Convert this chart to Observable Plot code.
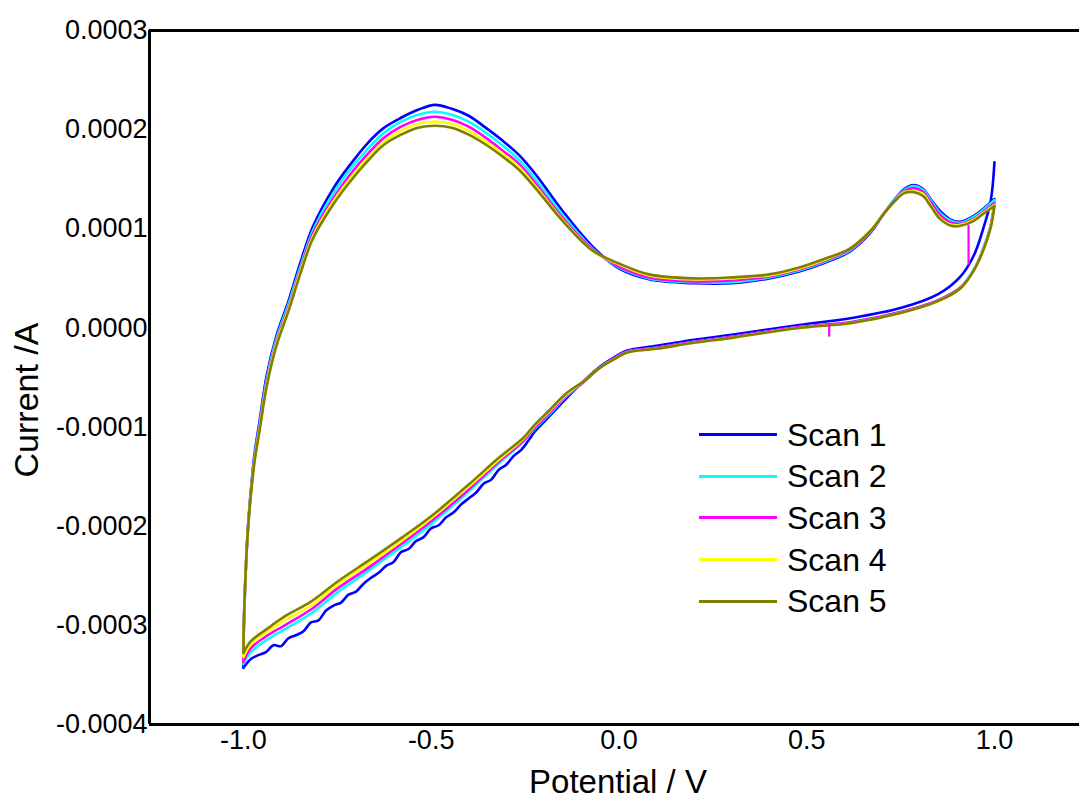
<!DOCTYPE html>
<html><head><meta charset="utf-8">
<script src="https://cdn.jsdelivr.net/npm/d3@7"></script>
<script src="https://cdn.jsdelivr.net/npm/@observablehq/plot@0.6"></script>
<style>
body{margin:0;background:#fff;font-family:"Liberation Sans",Arial,sans-serif;}
#wrap{position:relative;width:1079px;height:799px;overflow:hidden;}
#legend{position:absolute;left:699px;top:414px;}
.row{display:flex;align-items:center;height:41.6px;}
.sw{width:78px;height:3px;margin-right:10px;}
.lab{font-size:32px;color:#000;line-height:1;white-space:nowrap;}
</style></head><body><div id="wrap"><div id="legend"></div></div>
<script>
// ---- data (currents in units of 1e-4 A) ----
const scanNames = ["Scan 1", "Scan 2", "Scan 3", "Scan 4", "Scan 5"];
const scanColors = ["#0000ff", "#00ffff", "#ff00ff", "#ffff00", "#808000"];
const xTicks = [-1.0, -0.5, 0.0, 0.5, 1.0];
const yTicks = [-0.0004, -0.0003, -0.0002, -0.0001, 0, 0.0001, 0.0002, 0.0003];
const xDomain = [-1.25, 1.2265];
const yDomain = [-0.0004, 0.0003];
const unit = 1e-4;

// anodic (upper) branch potentials, V
const potUp = [-1.000, -0.999, -0.996, -0.992, -0.987, -0.979, -0.970, -0.957, -0.938, -0.912,
  -0.880, -0.848, -0.815, -0.760, -0.715, -0.670, -0.625, -0.580, -0.535, -0.490,
  -0.445, -0.400, -0.355, -0.310, -0.265, -0.220, -0.150, -0.070, 0.000, 0.080,
  0.200, 0.300, 0.400, 0.480, 0.550, 0.615, 0.670, 0.705, 0.735, 0.760,
  0.785, 0.810, 0.830, 0.855, 0.885, 0.910, 0.945, 0.970, 1.000];
// cathodic (lower) branch potentials, V (scans 2-5)
const potDown = [1.000, 0.990, 0.970, 0.945, 0.910, 0.850, 0.750, 0.620, 0.480, 0.300,
  0.200, 0.100, 0.020, -0.005, -0.050, -0.095, -0.140, -0.185, -0.225, -0.255,
  -0.320, -0.400, -0.500, -0.580, -0.660, -0.750, -0.820, -0.890, -0.935, -0.980, -1.000];
// cathodic branch potentials for the noisier scan 1, V
const potDown1 = [1.000, 0.990, 0.970, 0.945, 0.910, 0.850, 0.750, 0.620, 0.480, 0.300,
  0.200, 0.100, 0.020, -0.005, -0.050, -0.095, -0.140, -0.185, -0.225,
  -0.24, -0.26, -0.28, -0.30, -0.32, -0.34, -0.36, -0.38, -0.40, -0.42,
  -0.44, -0.46, -0.48, -0.50, -0.52, -0.54, -0.56, -0.58, -0.60, -0.62,
  -0.64, -0.66, -0.68, -0.70, -0.72, -0.74, -0.76, -0.78, -0.80, -0.82,
  -0.84, -0.86, -0.88, -0.90, -0.92, -0.94, -0.96, -0.980, -1.000];

const scan1Up = [-3.43, -3.06, -2.67, -2.30, -1.97, -1.59, -1.26, -0.94, -0.48, -0.08,
  0.27, 0.66, 1.02, 1.41, 1.65, 1.86, 2.02, 2.12, 2.20, 2.25,
  2.21, 2.14, 2.02, 1.89, 1.74, 1.54, 1.18, 0.82, 0.60, 0.49,
  0.45, 0.45, 0.50, 0.57, 0.66, 0.77, 0.96, 1.15, 1.30, 1.40,
  1.44, 1.40, 1.30, 1.18, 1.09, 1.07, 1.13, 1.20, 1.30];
const scan2Up = [-3.39, -3.04, -2.66, -2.30, -1.98, -1.61, -1.29, -0.98, -0.52, -0.11,
  0.24, 0.62, 0.98, 1.36, 1.60, 1.80, 1.97, 2.08, 2.15, 2.18,
  2.15, 2.08, 1.97, 1.84, 1.69, 1.49, 1.14, 0.80, 0.61, 0.50,
  0.46, 0.46, 0.51, 0.58, 0.67, 0.78, 0.97, 1.15, 1.30, 1.39,
  1.43, 1.39, 1.29, 1.16, 1.08, 1.06, 1.12, 1.19, 1.29];
const scan3Up = [-3.37, -3.03, -2.66, -2.30, -1.98, -1.62, -1.31, -1.00, -0.55, -0.14,
  0.21, 0.59, 0.95, 1.31, 1.55, 1.75, 1.92, 2.03, 2.10, 2.13,
  2.10, 2.03, 1.92, 1.79, 1.65, 1.45, 1.11, 0.79, 0.62, 0.51,
  0.47, 0.48, 0.52, 0.59, 0.68, 0.79, 0.97, 1.15, 1.29, 1.38,
  1.41, 1.37, 1.27, 1.14, 1.06, 1.05, 1.10, 1.17, 1.26];
const scan4Up = [-3.32, -3.02, -2.65, -2.30, -1.99, -1.63, -1.33, -1.02, -0.57, -0.16,
  0.19, 0.57, 0.92, 1.28, 1.51, 1.71, 1.88, 1.99, 2.06, 2.08,
  2.06, 1.99, 1.88, 1.76, 1.62, 1.42, 1.09, 0.78, 0.64, 0.53,
  0.49, 0.50, 0.53, 0.60, 0.69, 0.80, 0.98, 1.15, 1.28, 1.37,
  1.38, 1.35, 1.24, 1.11, 1.04, 1.04, 1.09, 1.16, 1.24];
const scan5Up = [-3.28, -3.01, -2.65, -2.30, -1.99, -1.64, -1.34, -1.04, -0.59, -0.18,
  0.17, 0.55, 0.90, 1.25, 1.48, 1.68, 1.85, 1.95, 2.02, 2.04,
  2.02, 1.95, 1.85, 1.73, 1.59, 1.40, 1.08, 0.78, 0.65, 0.54,
  0.50, 0.51, 0.54, 0.61, 0.70, 0.80, 0.98, 1.15, 1.28, 1.36,
  1.37, 1.33, 1.23, 1.10, 1.03, 1.03, 1.08, 1.15, 1.23];

const scan1Down = [1.67, 1.28, 1.00, 0.73, 0.52, 0.34, 0.20, 0.10, 0.03, -0.07,
  -0.12, -0.18, -0.23, -0.28, -0.39, -0.54, -0.71, -0.89, -1.05,
  -1.13, -1.23, -1.29, -1.38, -1.43, -1.53, -1.57, -1.66, -1.72, -1.78,
  -1.86, -1.91, -1.99, -2.02, -2.11, -2.15, -2.23, -2.26, -2.36, -2.40,
  -2.47, -2.52, -2.58, -2.66, -2.69, -2.77, -2.80, -2.85, -2.95, -2.97,
  -3.06, -3.10, -3.13, -3.21, -3.20, -3.27, -3.30, -3.34, -3.43];
const scan2Down = [1.29, 1.04, 0.80, 0.59, 0.41, 0.28, 0.16, 0.06, 0.01, -0.09,
  -0.14, -0.20, -0.24, -0.29, -0.40, -0.55, -0.69, -0.87, -1.02, -1.15,
  -1.37, -1.65, -1.98, -2.21, -2.43, -2.67, -2.88, -3.04, -3.14, -3.27, -3.39];
const scan3Down = [1.26, 1.03, 0.79, 0.58, 0.41, 0.28, 0.16, 0.06, 0.01, -0.09,
  -0.14, -0.20, -0.24, -0.29, -0.40, -0.55, -0.68, -0.86, -1.01, -1.14,
  -1.35, -1.63, -1.95, -2.18, -2.40, -2.63, -2.84, -3.00, -3.10, -3.23, -3.37];
const scan4Down = [1.24, 1.02, 0.78, 0.58, 0.40, 0.27, 0.15, 0.05, 0.00, -0.10,
  -0.15, -0.21, -0.25, -0.30, -0.40, -0.54, -0.67, -0.84, -0.99, -1.12,
  -1.33, -1.60, -1.92, -2.15, -2.36, -2.59, -2.80, -2.95, -3.06, -3.19, -3.32];
const scan5Down = [1.23, 1.01, 0.78, 0.58, 0.40, 0.27, 0.15, 0.05, 0.00, -0.10,
  -0.15, -0.21, -0.25, -0.30, -0.40, -0.54, -0.66, -0.83, -0.98, -1.11,
  -1.31, -1.58, -1.90, -2.12, -2.33, -2.56, -2.76, -2.91, -3.03, -3.16, -3.28];

// spikes seen in scan 3
const spikePot = [0.931, 0.931, 0.560, 0.560];
const spikeCur = [1.03, 0.65, 0.04, -0.08];
const spikeId = ["a", "a", "b", "b"];

// ---- build table ----
const upArrays = [scan1Up, scan2Up, scan3Up, scan4Up, scan5Up];
const downArrays = [scan1Down, scan2Down, scan3Down, scan4Down, scan5Down];
const downPots = [potDown1, potDown, potDown, potDown, potDown];
const rows = [];
scanNames.forEach((name, k) => {
  downArrays[k].forEach((c, i) => rows.push({scan: name, seg: name, E: downPots[k][i], I: c * unit}));
  upArrays[k].forEach((c, i) => rows.push({scan: name, seg: name, E: potUp[i], I: c * unit}));
});
const spikes = spikePot.map((e, i) => ({scan: "Scan 3", seg: "spike" + spikeId[i], E: e, I: spikeCur[i] * unit}));

const font = '"Liberation Sans", Arial, sans-serif';
const chart = Plot.plot({
  width: 1079, height: 799,
  marginLeft: 149, marginRight: 0, marginTop: 30, marginBottom: 75,
  style: {fontFamily: font, fontSize: "27px", background: "#fff", color: "#000"},
  x: {domain: xDomain, ticks: xTicks, tickFormat: d => d.toFixed(1), tickSize: 0, tickPadding: 5, label: null},
  y: {domain: yDomain, ticks: yTicks, tickFormat: d => d.toFixed(4), tickSize: 0, tickPadding: 2, label: null},
  color: {domain: scanNames, range: scanColors},
  marks: [
    Plot.line(rows, {x: "E", y: "I", z: "seg", stroke: "scan", strokeWidth: 2.6, curve: "catmull-rom"}),
    Plot.line(spikes, {x: "E", y: "I", z: "seg", stroke: "scan", strokeWidth: 2.2}),
    Plot.ruleX([xDomain[0]], {stroke: "#000", strokeWidth: 3}),
    Plot.ruleY(yDomain, {stroke: "#000", strokeWidth: 3})
  ]
});
document.getElementById("wrap").prepend(chart);

const svg = d3.select(chart);
svg.append("text").attr("x", 618).attr("y", 793).attr("text-anchor", "middle")
  .style("font-size", "33px").style("font-family", font).attr("fill", "#000").text("Potential / V");
svg.append("text").attr("transform", "translate(38,400) rotate(-90)").attr("text-anchor", "middle")
  .style("font-size", "34px").style("font-family", font).attr("fill", "#000").text("Current /A");

const legend = d3.select("#legend");
scanNames.forEach((n, i) => {
  const r = legend.append("div").attr("class", "row");
  r.append("div").attr("class", "sw").style("background", scanColors[i]);
  r.append("div").attr("class", "lab").text(n);
});
</script></body></html>
